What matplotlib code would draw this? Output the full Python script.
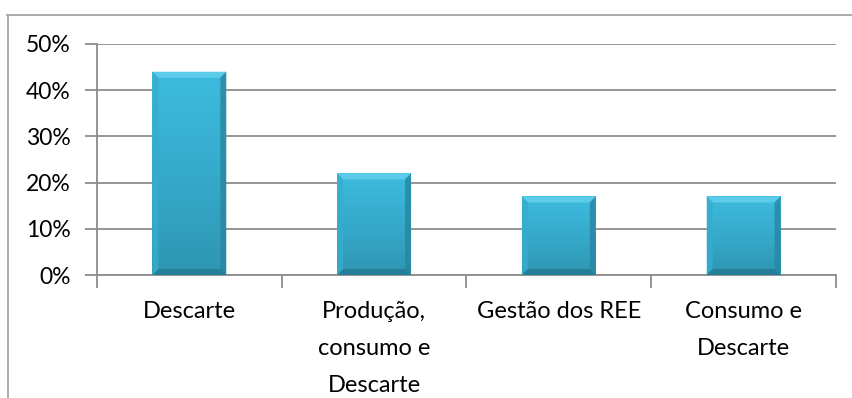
import matplotlib
matplotlib.use("Agg")
import matplotlib.pyplot as plt
import numpy as np
from matplotlib.patches import Polygon
from matplotlib.colors import LinearSegmentedColormap
from matplotlib.lines import Line2D

categories = ["Descarte", "Produção,\nconsumo e\nDescarte", "Gestão dos REE", "Consumo e\nDescarte"]
values = [44, 22, 17, 17]
yticks = [0, 10, 20, 30, 40, 50]
ytick_labels = ["0%", "10%", "20%", "30%", "40%", "50%"]

plt.rcParams['font.family'] = ['Lato', 'DejaVu Sans']

W, H = 853, 398
fig = plt.figure(figsize=(W/100, H/100), dpi=100)
ax = fig.add_axes([97/W, 1-275/H, (836-97)/W, (275-44)/H])

x = np.arange(len(categories))
bars = ax.bar(x, values, width=0.4, color='#36B0D2', zorder=3)
ax.set_xlim(-0.5, len(categories)-0.5)
ax.set_ylim(0, 50)

# gradient fill + bevel
cmap = LinearSegmentedColormap.from_list('b', ['#2E96B2', '#36AACB', '#3DBCDF'])
grad = np.linspace(0, 1, 100).reshape(-1, 1)
fig.canvas.draw()
px_x = ax.transData.transform((1, 0))[0] - ax.transData.transform((0, 0))[0]
px_y = ax.transData.transform((0, 1))[1] - ax.transData.transform((0, 0))[1]
bev = 6
dx, dy = bev/px_x, bev/px_y
for b in bars:
    x0, w, h = b.get_x(), b.get_width(), b.get_height()
    x1 = x0 + w
    im = ax.imshow(grad, extent=[x0, x1, 0, h], origin='lower', aspect='auto', cmap=cmap, zorder=3.1)
    im.set_clip_path(b)
    ax.add_patch(Polygon([(x0, h), (x1, h), (x1-dx, h-dy), (x0+dx, h-dy)], closed=True,
                         facecolor='#5CCCEA', edgecolor='none', zorder=3.2))
    ax.add_patch(Polygon([(x0, h), (x0+dx, h-dy), (x0+dx, dy), (x0, 0)], closed=True,
                         facecolor='#37ADCE', edgecolor='none', alpha=0.8, zorder=3.2))
    ax.add_patch(Polygon([(x1, h), (x1-dx, h-dy), (x1-dx, dy), (x1, 0)], closed=True,
                         facecolor='#2886A0', edgecolor='none', alpha=0.8, zorder=3.2))
    ax.add_patch(Polygon([(x0, 0), (x0+dx, dy), (x1-dx, dy), (x1, 0)], closed=True,
                         facecolor='#237C95', edgecolor='none', alpha=0.85, zorder=3.2))

ax.set_yticks(yticks)
ax.set_yticklabels(ytick_labels, fontsize=16.5, color='black')
ax.yaxis.grid(True, color='#8C8C8C', linewidth=1.3, zorder=0)
ax.set_axisbelow(True)

ax.set_xticks(np.arange(-0.5, len(categories), 1.0))
ax.set_xticklabels([])
ax.set_xticks(x, minor=True)
ax.set_xticklabels(categories, minor=True, fontsize=17, linespacing=1.92, va='top')
ax.tick_params(axis='x', which='minor', length=0, pad=19)
ax.tick_params(axis='x', which='major', length=9, width=1.3, color='#8C8C8C', direction='out')
ax.tick_params(axis='y', length=9, width=1.3, color='#8C8C8C', direction='out', pad=10)

for s in ['top', 'right']:
    ax.spines[s].set_visible(False)
for s in ['left', 'bottom']:
    ax.spines[s].set_color('#8C8C8C')
    ax.spines[s].set_linewidth(1.3)

fig.add_artist(Line2D([7/W, 1], [1-15/H, 1-15/H], color='#A6A6A6', linewidth=1.3, transform=fig.transFigure))
fig.add_artist(Line2D([8/W, 8/W], [1-15/H, 0], color='#A6A6A6', linewidth=1.3, transform=fig.transFigure))

fig.savefig('out.png', dpi=100)
